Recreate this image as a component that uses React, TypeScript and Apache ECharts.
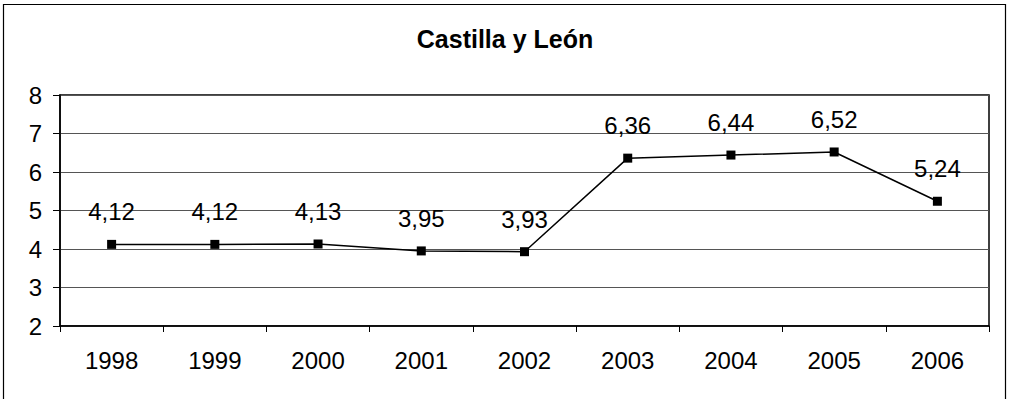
import React, { useEffect, useRef } from "react";
import * as echarts from "echarts";

const title = "Castilla y León";
const years = ["1998", "1999", "2000", "2001", "2002", "2003", "2004", "2005", "2006"];
const values = [4.12, 4.12, 4.13, 3.95, 3.93, 6.36, 6.44, 6.52, 5.24];
const yMin = 2;
const yMax = 8;
const yStep = 1;

const FONT = "'Liberation Sans', Arial, sans-serif";

export default function App() {
  const ref = useRef<HTMLDivElement>(null);
  useEffect(() => {
    if (!ref.current) return;
    const chart = echarts.init(ref.current, null, { renderer: "svg" });
    chart.setOption({
      animation: false,
      backgroundColor: "#ffffff",
      title: {
        text: title,
        left: "center",
        top: 21,
        textStyle: { fontFamily: FONT, fontSize: 25, fontWeight: "bold", color: "#000" },
      },
      graphic: [
        {
          type: "rect",
          shape: { x: 3.5, y: 4.5, width: 1002, height: 400 },
          style: { fill: "none", stroke: "#000", lineWidth: 1.2 },
          silent: true,
          z: 100,
        },
      ],
      grid: {
        left: 60,
        right: 21,
        top: 95,
        bottom: 73,
        show: true,
        borderColor: "#000",
        borderWidth: 1.5,
        containLabel: false,
      },
      xAxis: {
        type: "category",
        data: years,
        boundaryGap: true,
        axisLine: { lineStyle: { color: "#000", width: 1.5 } },
        axisTick: { show: true, length: 6, lineStyle: { color: "#000" } },
        axisLabel: { fontFamily: FONT, fontSize: 24, color: "#000", margin: 22 },
      },
      yAxis: {
        type: "value",
        min: yMin,
        max: yMax,
        interval: yStep,
        axisLine: { show: true, lineStyle: { color: "#000", width: 1.5 } },
        axisTick: { show: true, length: 7, lineStyle: { color: "#000" } },
        axisLabel: { fontFamily: FONT, fontSize: 24, color: "#000", margin: 18 },
        splitLine: { show: true, lineStyle: { color: "#555", width: 1 } },
      },
      series: [
        {
          type: "line",
          data: values,
          symbol: "rect",
          symbolSize: 9,
          itemStyle: { color: "#000" },
          lineStyle: { color: "#000", width: 1.5 },
          label: {
            show: true,
            position: "top",
            distance: 16,
            fontFamily: FONT,
            fontSize: 24,
            color: "#000",
            formatter: (p: any) => String(p.value.toFixed(2)).replace(".", ","),
          },
        },
      ],
    });
    return () => chart.dispose();
  }, []);
  return (
    <div
      ref={ref}
      style={{ position: "absolute", left: 0, top: 0, width: 1010, height: 399 }}
    />
  );
}
